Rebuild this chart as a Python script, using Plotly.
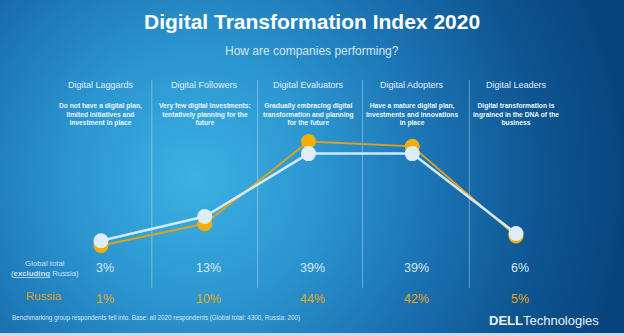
import base64
import plotly.graph_objects as go

# ---- data ----
categories = ["Digital Laggards", "Digital Followers", "Digital Evaluators",
              "Digital Adopters", "Digital Leaders"]
descriptions = [
    "Do not have a digital plan,<br>limited initiatives and<br>investment in place",
    "Very few digital investments:<br>tentatively planning for the<br>future",
    "Gradually embracing digital<br>transformation and planning<br>for the future",
    "Have a mature digital plan,<br>investments and innovations<br>in place",
    "Digital transformation is<br>ingrained in the DNA of the<br>business",
]
global_pct = [3, 13, 39, 39, 6]
russia_pct = [1, 10, 44, 42, 5]
separators = [0.49, 1.51, 2.52, 3.55]

W, H = 624, 336
FONT = "Liberation Sans, Arial, sans-serif"


def py(pix):
    return 1 - pix / H


idx = list(range(len(categories)))

# radial gradient background as svg
svg = f'''<svg xmlns="http://www.w3.org/2000/svg" width="{W}" height="{H}" viewBox="0 0 {W} {H}" preserveAspectRatio="none">
<defs><radialGradient id="g" gradientUnits="userSpaceOnUse" cx="195" cy="178" r="440">
<stop offset="0" stop-color="#3cb1e3"/>
<stop offset="0.3" stop-color="#2a94cf"/>
<stop offset="0.55" stop-color="#1b72b2"/>
<stop offset="0.8" stop-color="#0d5490"/>
<stop offset="1" stop-color="#07437c"/>
</radialGradient></defs>
<rect x="0" y="0" width="{W}" height="{H}" fill="url(#g)"/>
</svg>'''
src = "data:image/svg+xml;base64," + base64.b64encode(svg.encode()).decode()

fig = go.Figure()
fig.add_trace(go.Scatter(
    x=idx, y=russia_pct, mode="lines+markers", cliponaxis=False,
    line=dict(color="#dca21c", width=2),
    marker=dict(size=15, color="#f4b000", line=dict(width=0)),
    hoverinfo="skip", showlegend=False))
fig.add_trace(go.Scatter(
    x=idx, y=global_pct, mode="lines+markers", cliponaxis=False,
    line=dict(color="#d4e9f7", width=2.5),
    marker=dict(size=15, color="#ddeef9", line=dict(width=0)),
    hoverinfo="skip", showlegend=False))

ann = []


def add(text, x, y, size, color, xref="paper", xanchor="center", align="center", xshift=0):
    ann.append(dict(text=text, x=x, y=y, xref=xref, yref="paper", showarrow=False,
                    xanchor=xanchor, yanchor="middle", align=align, xshift=xshift,
                    font=dict(size=size, color=color, family=FONT)))


add("<b>Digital Transformation Index 2020</b>", 0.5, py(21), 21, "white")
add("How are companies performing?", 0.5, py(51), 12, "#d3e6f4")
for i, (c, d) in enumerate(zip(categories, descriptions)):
    add(c, i, py(85), 9, "#e0eef9", xref="x")
    add(f"<b>{d}</b>", i, py(114), 6.7, "#eef6fc", xref="x")
for i, (g, r) in enumerate(zip(global_pct, russia_pct)):
    add(f"{g}%", i, py(268), 12.5, "#d8e9f6", xref="x", xshift=4)
    add(f"{r}%", i, py(299), 12.5, "#e6a816", xref="x", xshift=4)
add("Global total<br>(<b><u>excluding</u></b> Russia)", 45 / W, py(268), 7.8, "#c9e0f1")
add("Russia", 44 / W, py(296), 11.5, "#d9a41c")
add("Benchmarking group respondents fell into. Base: all 2020 respondents (Global total: 4300, Russia: 200)",
    10 / W, py(318), 6.3, "#d6e7f4", xanchor="left")
add("<b>DELL</b>Technologies", 544 / W, py(320), 13, "#e8f2fa")

shapes = []
for s in separators:
    shapes.append(dict(type="line", xref="x", yref="paper", x0=s, x1=s,
                       y0=py(288), y1=py(80),
                       line=dict(color="rgba(255,255,255,0.35)", width=1), layer="below"))
shapes.append(dict(type="rect", xref="paper", yref="paper", x0=0, x1=1, y0=0, y1=3 / H,
                   fillcolor="#c9dcec", line=dict(width=0)))

fig.update_layout(
    width=W, height=H, margin=dict(l=0, r=0, t=0, b=0),
    paper_bgcolor="#1a70b0", plot_bgcolor="rgba(0,0,0,0)",
    images=[dict(source=src, xref="paper", yref="paper", x=0, y=1, sizex=1, sizey=1,
                 xanchor="left", yanchor="top", sizing="stretch", layer="below")],
    xaxis=dict(range=[-0.9, 4.9], domain=[7.6 / W, 609.4 / W], visible=False, fixedrange=True),
    yaxis=dict(range=[0, 50], domain=[py(248), py(127)], visible=False, fixedrange=True),
    annotations=ann, shapes=shapes, showlegend=False,
)
fig.write_html("out.html", config={"displayModeBar": False})
